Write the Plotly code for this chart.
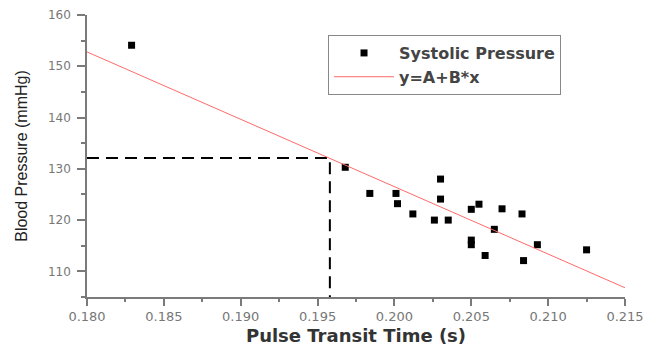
import plotly.graph_objects as go

# Data
ptt = [0.1829, 0.1968, 0.1984, 0.2001, 0.2002, 0.2012, 0.2030, 0.2030, 0.2026, 0.2035,
       0.2050, 0.2055, 0.2050, 0.2050, 0.2065, 0.2059, 0.2070, 0.2083, 0.2084, 0.2093, 0.2125]
sbp = [154.1, 130.3, 125.2, 125.2, 123.2, 121.2, 128.0, 124.1, 120.0, 120.0,
       122.1, 123.1, 116.1, 115.2, 118.2, 113.1, 122.2, 121.2, 112.1, 115.2, 114.2]

fit_x = [0.180, 0.215]
fit_y = [152.8, 106.8]

ref_x = 0.1958
ref_y = 132.1

x_range = [0.180, 0.215]
y_range = [105, 160]
x_ticks = [0.180, 0.185, 0.190, 0.195, 0.200, 0.205, 0.210, 0.215]
x_ticklabels = ["0.180", "0.185", "0.190", "0.195", "0.200", "0.205", "0.210", "0.215"]
y_ticks = [110, 120, 130, 140, 150, 160]

fig = go.Figure()

fig.add_trace(go.Scatter(
    x=[x_range[0], ref_x, ref_x], y=[ref_y, ref_y, y_range[0]],
    mode="lines", line=dict(color="black", width=2, dash="12px,7px"),
    showlegend=False, hoverinfo="skip"))

fig.add_trace(go.Scatter(
    x=ptt, y=sbp, mode="markers", name="Systolic Pressure",
    marker=dict(symbol="square", size=7, color="black")))

fig.add_trace(go.Scatter(
    x=fit_x, y=fit_y, mode="lines", name="y=A+B*x",
    line=dict(color="#ff6a6a", width=1)))

axis_common = dict(
    showline=True, linecolor="#7a7a7a", linewidth=1.5, showgrid=False, zeroline=False,
    ticks="outside", tickcolor="#7a7a7a", tickwidth=1.5, mirror=False, automargin=False,
)

fig.update_xaxes(
    **axis_common, range=x_range, tickvals=x_ticks, ticktext=x_ticklabels, ticklen=7,
    tickfont=dict(family="DejaVu Sans", size=13, color="#777777"),
    minor=dict(ticks="outside", ticklen=3, dtick=0.0025, tickcolor="#7a7a7a", tickwidth=1.5),
    title=dict(text="Pulse Transit Time (s)", standoff=10,
               font=dict(family="DejaVu Sans", size=18, color="#333333", weight="bold")),
)
fig.update_yaxes(
    **axis_common, range=y_range, tickvals=y_ticks, ticklen=8,
    tickfont=dict(family="DejaVu Sans", size=12, color="#777777"),
    ticklabelstandoff=4,
    minor=dict(ticks="outside", ticklen=4, dtick=5, tick0=105, tickcolor="#7a7a7a", tickwidth=1.5),
    title=dict(text="Blood Pressure (mmHg)", standoff=16,
               font=dict(family="Liberation Sans", size=16, color="#222222")),
)

fig.update_layout(
    width=647, height=346,
    margin=dict(l=87, r=22, t=15, b=49),
    plot_bgcolor="white", paper_bgcolor="white",
    legend=dict(x=0.448, y=0.929, xanchor="left", yanchor="top",
                bordercolor="#888888", borderwidth=1, bgcolor="white",
                font=dict(family="DejaVu Sans", size=16, color="#444444", weight="bold"),
                itemwidth=60, tracegroupgap=0),
)

fig.write_html("out.html")
